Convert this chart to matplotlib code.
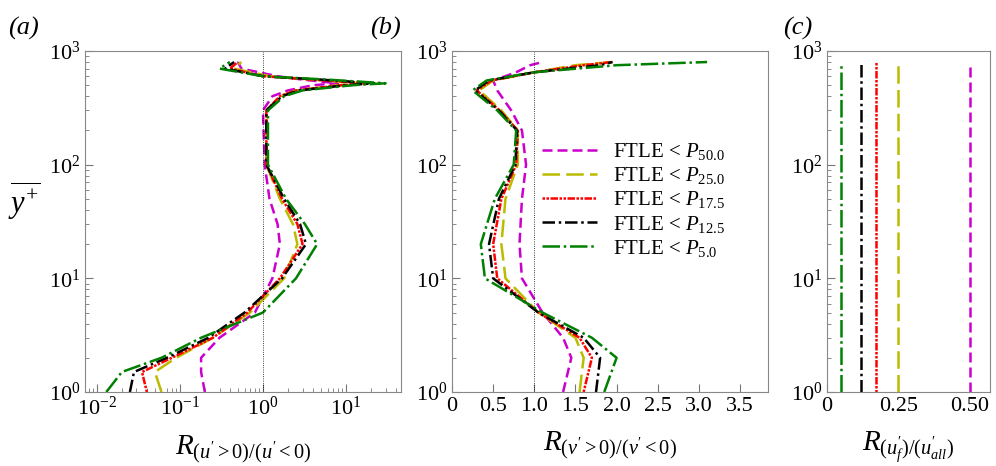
import numpy as np
import matplotlib
matplotlib.use("Agg")
import matplotlib.pyplot as plt

plt.rcParams['font.family'] = ['Liberation Serif', 'DejaVu Serif']
plt.rcParams['mathtext.fontset'] = 'custom'
plt.rcParams['mathtext.rm'] = 'Liberation Serif'
plt.rcParams['mathtext.it'] = 'Liberation Serif:italic'
plt.rcParams['mathtext.bf'] = 'Liberation Serif:bold'

labels = [r'FTLE < $P_{50.0}$', r'FTLE < $P_{25.0}$', r'FTLE < $P_{17.5}$',
          r'FTLE < $P_{12.5}$', r'FTLE < $P_{5.0}$']
colors = ['#cc00cc', '#bbbb00', 'red', 'black', 'green']
styles = [(0, (4, 2)), (0, (7, 2.5)), (0, (1, 0.6, 1, 0.6, 3, 0.6)),
          (0, (5, 1.5, 1, 1.5)), (0, (7, 1.5, 1, 1.5))]

# panel (a): y+ and ratio for each threshold
ya = [1, 1.5, 2, 3, 5, 10, 20, 30, 50, 100, 300, 400, 450, 500, 520, 560, 600, 700, 800]
xa = [
    [0.20, 0.18, 0.18, 0.30, 0.80, 1.3, 1.6, 1.5, 1.2, 1.05, 1.0, 1.3, 2.0, 4.0, 8.0, 3.0, 1.5, 0.55, 0.50],
    [0.06, 0.05, 0.09, 0.25, 0.70, 1.8, 2.6, 2.3, 1.6, 1.1, 1.1, 1.6, 2.5, 8.0, 15.0, 4.0, 1.2, 0.45, 0.55],
    [0.04, 0.035, 0.08, 0.25, 0.65, 1.6, 3.0, 2.6, 1.7, 1.1, 1.1, 1.6, 2.5, 9.0, 18.0, 4.0, 1.0, 0.40, 0.50],
    [0.025, 0.028, 0.07, 0.22, 0.60, 1.7, 3.3, 2.8, 1.8, 1.1, 1.1, 1.7, 2.7, 10.0, 22.0, 5.0, 1.0, 0.35, 0.45],
    [0.013, 0.02, 0.06, 0.18, 1.00, 2.5, 4.5, 3.2, 1.9, 1.15, 1.15, 1.8, 3.0, 12.0, 30.0, 6.0, 1.0, 0.30, 0.40],
]

# panel (b)
yb = [1, 2, 3, 5, 10, 20, 50, 100, 200, 300, 450, 550, 650, 750, 800]
xb = [
    [1.35, 1.45, 1.35, 1.10, 0.85, 0.82, 0.85, 0.90, 0.85, 0.72, 0.55, 0.50, 0.78, 0.95, 1.1],
    [1.55, 1.60, 1.50, 1.05, 0.65, 0.60, 0.65, 0.80, 0.80, 0.60, 0.33, 0.50, 1.00, 1.50, 1.95],
    [1.60, 1.70, 1.55, 1.05, 0.55, 0.50, 0.60, 0.78, 0.80, 0.58, 0.30, 0.48, 1.00, 1.60, 1.95],
    [1.75, 1.80, 1.60, 1.05, 0.50, 0.45, 0.57, 0.77, 0.79, 0.57, 0.28, 0.45, 1.00, 1.80, 1.95],
    [1.85, 2.00, 1.70, 1.10, 0.40, 0.35, 0.52, 0.75, 0.78, 0.55, 0.25, 0.42, 1.00, 2.00, 3.10],
]

# panel (c): constant fractions
fc = [0.50, 0.25, 0.17, 0.12, 0.05]
yc = [1, 800]

fig = plt.figure(figsize=(9.96, 4.66), dpi=100)
W, H = 996, 466
def box(l, r):
    return [l / W, 1 - 392 / H, (r - l) / W, 341 / H]
ax1 = fig.add_axes(box(85, 401))
ax2 = fig.add_axes(box(452, 768))
ax3 = fig.add_axes(box(827, 990))

for i in range(5):
    ax1.plot(xa[i], ya, color=colors[i], ls=styles[i], lw=1.8)
    ax2.plot(xb[i], yb, color=colors[i], ls=styles[i], lw=1.8, label=labels[i])
    ax3.plot([fc[i], fc[i]], yc, color=colors[i], ls=styles[i], lw=1.8)

ax1.set_xscale('log')
ax1.set_xlim(0.0072, 46)
ax1.axvline(1, color='k', lw=0.6, ls=':')
ax2.set_xlim(0, 3.84)
ax2.set_xticks([0, 0.5, 1.0, 1.5, 2.0, 2.5, 3.0, 3.5])
ax2.set_xticklabels(['0', '0.5', '1.0', '1.5', '2.0', '2.5', '3.0', '3.5'])
ax2.axvline(1, color='k', lw=0.6, ls=':')
ax3.set_xlim(0, 0.57)
ax3.set_xticks([0, 0.25, 0.5])
ax3.set_xticklabels(['0', '0.25', '0.50'])

for ax in (ax1, ax2, ax3):
    ax.set_yscale('log')
    ax.set_ylim(1, 1000)
    ax.tick_params(which='both', direction='in', labelsize=16, color='#777777')
    ax.tick_params(which='major', length=6)
    ax.tick_params(which='minor', length=3)
    for s in ax.spines.values():
        s.set_color('#888888')

ax1.set_ylabel(r'$\overline{y^{+}}$', fontsize=22, rotation=0, labelpad=18)
ax1.set_xlabel(r"$R_{(u^{\prime}>0)/(u^{\prime}<0)}$", fontsize=21, labelpad=10)
ax2.set_xlabel(r"$R_{(v^{\prime}>0)/(v^{\prime}<0)}$", fontsize=21, labelpad=10)
ax3.set_xlabel(r"$R_{(u^{\prime}_f)/(u^{\prime}_{all})}$", fontsize=21, labelpad=10)

for ax, t, x in ((ax1, '(a)', 8), (ax2, '(b)', 370), (ax3, '(c)', 783)):
    fig.text(x / W, 1 - 28 / H, t, fontsize=19, style='italic', va='center')

ax2.legend(loc='upper left', bbox_to_anchor=(0.26, 0.76), frameon=False,
           fontsize=15, handlelength=2.6, labelspacing=0.15, borderaxespad=0)

fig.savefig('out.png', dpi=100)
